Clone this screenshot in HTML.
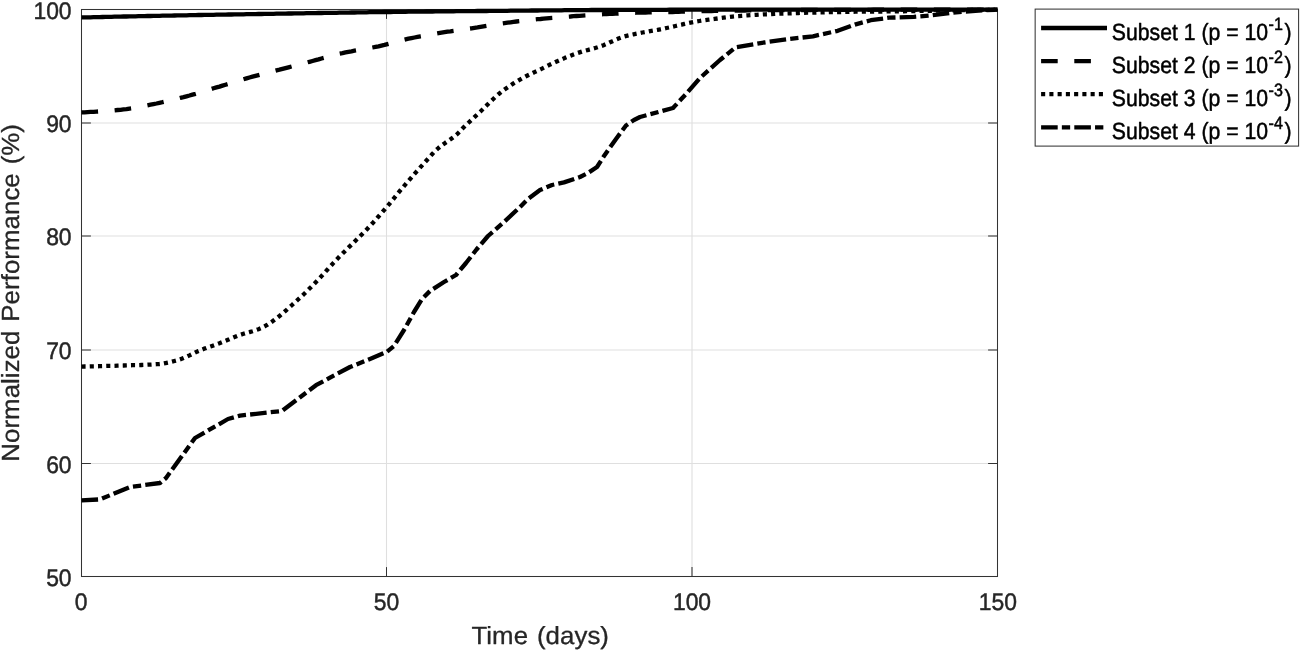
<!DOCTYPE html>
<html><head><meta charset="utf-8"><title>Chart</title>
<style>
html,body{margin:0;padding:0;background:#fff;}
body{width:1300px;height:651px;position:relative;overflow:hidden;font-family:"Liberation Sans",sans-serif;}
svg{display:block;}
text{font-family:"Liberation Sans",sans-serif;white-space:pre;}
</style></head><body>
<svg width="1300" height="651" viewBox="0 0 1300 651" style="position:absolute;left:0;top:0;will-change:transform">
<rect width="1300" height="651" fill="#fff"/>
<line x1="386.5" y1="9.5" x2="386.5" y2="576.5" stroke="#dfdfdf" stroke-width="1.1"/>
<line x1="692.0" y1="9.5" x2="692.0" y2="576.5" stroke="#dfdfdf" stroke-width="1.1"/>
<line x1="81.5" y1="463.5" x2="997.5" y2="463.5" stroke="#dfdfdf" stroke-width="1.1"/>
<line x1="81.5" y1="350.0" x2="997.5" y2="350.0" stroke="#dfdfdf" stroke-width="1.1"/>
<line x1="81.5" y1="236.0" x2="997.5" y2="236.0" stroke="#dfdfdf" stroke-width="1.1"/>
<line x1="81.5" y1="123.0" x2="997.5" y2="123.0" stroke="#dfdfdf" stroke-width="1.1"/>
<rect x="81.5" y="9.5" width="916.0" height="567.0" fill="none" stroke="#333" stroke-width="1.04"/>
<line x1="386.5" y1="576.5" x2="386.5" y2="567.1" stroke="#333" stroke-width="1.04"/>
<line x1="386.5" y1="9.5" x2="386.5" y2="18.9" stroke="#333" stroke-width="1.04"/>
<line x1="692.0" y1="576.5" x2="692.0" y2="567.1" stroke="#333" stroke-width="1.04"/>
<line x1="692.0" y1="9.5" x2="692.0" y2="18.9" stroke="#333" stroke-width="1.04"/>
<line x1="81.5" y1="463.5" x2="90.9" y2="463.5" stroke="#333" stroke-width="1.04"/>
<line x1="997.5" y1="463.5" x2="988.1" y2="463.5" stroke="#333" stroke-width="1.04"/>
<line x1="81.5" y1="350.0" x2="90.9" y2="350.0" stroke="#333" stroke-width="1.04"/>
<line x1="997.5" y1="350.0" x2="988.1" y2="350.0" stroke="#333" stroke-width="1.04"/>
<line x1="81.5" y1="236.0" x2="90.9" y2="236.0" stroke="#333" stroke-width="1.04"/>
<line x1="997.5" y1="236.0" x2="988.1" y2="236.0" stroke="#333" stroke-width="1.04"/>
<line x1="81.5" y1="123.0" x2="90.9" y2="123.0" stroke="#333" stroke-width="1.04"/>
<line x1="997.5" y1="123.0" x2="988.1" y2="123.0" stroke="#333" stroke-width="1.04"/>
<path d="M81.5,500.4 L100.0,499.4 L130.0,487.0 L160.0,483.0 L166.0,478.0 L195.0,438.0 L228.0,419.0 L240.0,415.6 L282.0,411.0 L316.0,385.2 L330.0,377.6 L350.0,367.0 L370.0,359.0 L386.6,352.0 L394.0,346.0 L404.0,330.0 L414.0,312.0 L422.0,299.0 L430.0,291.0 L444.0,282.0 L456.0,275.0 L466.0,263.0 L476.5,249.5 L488.0,236.0 L504.0,222.0 L520.0,207.0 L528.0,199.0 L540.0,190.0 L552.0,185.0 L564.0,182.4 L580.0,177.0 L588.0,173.0 L597.0,167.0 L604.0,156.0 L616.0,139.0 L626.0,125.5 L634.0,120.0 L640.0,117.0 L660.0,111.6 L673.0,108.0 L686.0,94.0 L700.0,78.0 L720.0,60.0 L735.5,47.4 L763.8,42.5 L788.5,39.1 L813.0,36.3 L837.7,30.8 L854.8,24.6 L870.8,20.2 L889.2,17.7 L913.8,16.9 L932.3,15.3 L950.8,12.8 L975.4,10.8 L997.5,9.6" fill="none" stroke="#000" stroke-width="4.3" stroke-linejoin="round" stroke-dasharray="16.6 4.15 8.3 4.15"/>
<path d="M81.5,366.6 L84.5,366.5 L87.5,366.5 L90.5,366.4 L93.5,366.3 L96.5,366.3 L99.5,366.2 L102.5,366.1 L105.5,366.0 L108.5,365.9 L111.5,365.9 L114.5,365.8 L117.5,365.7 L120.5,365.6 L123.5,365.5 L126.5,365.4 L129.5,365.3 L132.5,365.2 L135.5,365.2 L138.5,365.1 L141.5,365.0 L144.5,364.9 L147.5,364.7 L150.5,364.6 L153.5,364.4 L156.5,364.2 L159.5,364.0 L162.5,363.7 L165.5,363.1 L168.5,362.5 L171.5,361.8 L174.5,361.0 L177.5,360.2 L180.5,359.2 L183.5,358.1 L186.5,356.8 L189.5,355.4 L192.5,353.9 L195.5,352.4 L198.5,351.0 L201.5,349.8 L204.5,348.6 L207.5,347.5 L210.5,346.5 L213.5,345.4 L216.5,344.3 L219.5,343.2 L222.5,342.0 L225.5,340.8 L228.5,339.6 L231.5,338.3 L234.5,337.1 L237.5,335.9 L240.5,334.8 L243.5,333.8 L246.5,332.9 L249.5,332.1 L252.5,331.2 L255.5,330.2 L258.5,329.2 L261.5,328.0 L264.5,326.4 L267.5,324.7 L270.5,322.8 L273.5,320.6 L276.5,318.3 L279.5,316.0 L282.5,313.5 L285.5,310.9 L288.5,308.2 L291.5,305.5 L294.5,302.8 L297.5,300.0 L300.5,297.3 L303.5,294.5 L306.5,291.6 L309.5,288.6 L312.5,285.6 L315.5,282.5 L318.5,279.4 L321.5,276.1 L324.5,272.8 L327.5,269.5 L330.5,266.2 L333.5,262.9 L336.5,259.7 L339.5,256.6 L342.5,253.6 L345.5,250.6 L348.5,247.6 L351.5,244.7 L354.5,241.7 L357.5,238.7 L360.5,235.8 L363.5,232.8 L366.5,229.7 L369.5,226.5 L372.5,223.3 L375.5,219.9 L378.5,216.5 L381.5,213.1 L384.5,209.6 L387.5,206.1 L390.5,202.5 L393.5,198.8 L396.5,195.1 L399.5,191.4 L402.5,187.8 L405.5,184.3 L408.5,180.8 L411.5,177.3 L414.5,173.9 L417.5,170.6 L420.5,167.2 L423.5,163.9 L426.5,160.5 L429.5,157.1 L432.5,153.8 L435.5,150.7 L438.5,148.0 L441.5,145.5 L444.5,143.4 L447.5,141.3 L450.5,139.3 L453.5,137.1 L456.5,134.7 L459.5,131.8 L462.5,128.5 L465.5,125.5 L468.5,122.7 L471.5,119.9 L474.5,117.1 L477.5,114.3 L480.5,111.5 L483.5,108.6 L486.5,105.6 L489.5,102.6 L492.5,99.7 L495.5,96.8 L498.5,94.2 L501.5,91.8 L504.5,89.6 L507.5,87.4 L510.5,85.4 L513.5,83.4 L516.5,81.6 L519.5,79.8 L522.5,78.1 L525.5,76.5 L528.5,75.0 L531.5,73.6 L534.5,72.1 L537.5,70.7 L540.5,69.3 L543.5,67.8 L546.5,66.3 L549.5,64.8 L552.5,63.4 L555.5,62.0 L558.5,60.7 L561.5,59.4 L564.5,58.1 L567.5,56.9 L570.5,55.7 L573.5,54.5 L576.5,53.4 L579.5,52.4 L582.5,51.4 L585.5,50.6 L588.5,49.8 L591.5,49.0 L594.5,48.2 L597.5,47.3 L600.5,46.3 L603.5,45.2 L606.5,43.9 L609.5,42.5 L612.5,41.2 L615.5,39.8 L618.5,38.6 L621.5,37.5 L624.5,36.4 L627.5,35.6 L630.5,34.9 L633.5,34.3 L636.5,33.7 L639.5,33.1 L642.5,32.5 L645.5,32.0 L648.5,31.5 L651.5,30.9 L654.5,30.4 L657.5,29.9 L660.5,29.3 L663.5,28.7 L666.5,28.0 L669.5,27.4 L672.5,26.7 L675.5,26.0 L678.5,25.3 L681.5,24.7 L684.5,23.9 L687.5,23.2 L690.5,22.6 L693.5,22.0 L696.5,21.5 L699.5,21.0 L702.5,20.5 L705.5,20.1 L708.5,19.7 L711.5,19.3 L714.5,18.9 L717.5,18.5 L720.5,18.1 L723.5,17.7 L726.5,17.3 L729.5,17.0 L732.5,16.6 L735.5,16.3 L738.5,16.1 L741.5,15.8 L744.5,15.6 L747.5,15.4 L750.5,15.2 L753.5,15.0 L756.5,14.8 L759.5,14.6 L762.5,14.5 L765.5,14.3 L768.5,14.2 L771.5,14.0 L774.5,13.9 L777.5,13.7 L780.5,13.6 L783.5,13.5 L786.5,13.4 L789.5,13.3 L792.5,13.2 L795.5,13.1 L798.5,13.0 L801.5,12.9 L804.5,12.8 L807.5,12.7 L810.5,12.7 L813.5,12.6 L816.5,12.5 L819.5,12.4 L822.5,12.4 L825.5,12.3 L828.5,12.2 L831.5,12.1 L834.5,12.1 L837.5,12.0 L840.5,12.0 L843.5,11.9 L846.5,11.9 L849.5,11.8 L852.5,11.8 L855.5,11.7 L858.5,11.7 L861.5,11.7 L864.5,11.6 L867.5,11.6 L870.5,11.6 L873.5,11.6 L876.5,11.5 L879.5,11.5 L882.5,11.5 L885.5,11.5 L888.5,11.4 L891.5,11.4 L894.5,11.4 L897.5,11.3 L900.5,11.3 L903.5,11.3 L906.5,11.2 L909.5,11.2 L912.5,11.1 L915.5,11.1 L918.5,11.0 L921.5,10.9 L924.5,10.9 L927.5,10.8 L930.5,10.8 L933.5,10.7 L936.5,10.7 L939.5,10.6 L942.5,10.6 L945.5,10.5 L948.5,10.5 L951.5,10.4 L954.5,10.3 L957.5,10.3 L960.5,10.2 L963.5,10.2 L966.5,10.1 L969.5,10.1 L972.5,10.0 L975.5,10.0 L978.5,9.9 L981.5,9.9 L984.5,9.8 L987.5,9.8 L990.5,9.7 L993.5,9.7 L996.5,9.6 L997.5,9.6" fill="none" stroke="#000" stroke-width="4.3" stroke-linejoin="round" stroke-dasharray="4.1 4.15"/>
<path d="M81.5,112.4 L84.5,112.3 L87.5,112.1 L90.5,111.9 L93.5,111.8 L96.5,111.6 L99.5,111.4 L102.5,111.2 L105.5,111.0 L108.5,110.8 L111.5,110.5 L114.5,110.3 L117.5,110.0 L120.5,109.8 L123.5,109.4 L126.5,109.1 L129.5,108.6 L132.5,108.2 L135.5,107.6 L138.5,107.1 L141.5,106.5 L144.5,105.9 L147.5,105.3 L150.5,104.7 L153.5,104.1 L156.5,103.5 L159.5,102.8 L162.5,102.2 L165.5,101.5 L168.5,100.8 L171.5,100.1 L174.5,99.3 L177.5,98.6 L180.5,97.8 L183.5,97.1 L186.5,96.3 L189.5,95.5 L192.5,94.6 L195.5,93.8 L198.5,92.9 L201.5,92.0 L204.5,91.1 L207.5,90.2 L210.5,89.3 L213.5,88.3 L216.5,87.4 L219.5,86.6 L222.5,85.6 L225.5,84.7 L228.5,83.8 L231.5,82.9 L234.5,82.0 L237.5,81.1 L240.5,80.2 L243.5,79.3 L246.5,78.4 L249.5,77.5 L252.5,76.7 L255.5,75.9 L258.5,75.1 L261.5,74.3 L264.5,73.5 L267.5,72.7 L270.5,72.0 L273.5,71.2 L276.5,70.4 L279.5,69.7 L282.5,68.9 L285.5,68.1 L288.5,67.3 L291.5,66.5 L294.5,65.7 L297.5,64.9 L300.5,64.2 L303.5,63.4 L306.5,62.6 L309.5,61.8 L312.5,61.0 L315.5,60.2 L318.5,59.4 L321.5,58.5 L324.5,57.7 L327.5,56.8 L330.5,56.0 L333.5,55.2 L336.5,54.4 L339.5,53.7 L342.5,53.1 L345.5,52.4 L348.5,51.8 L351.5,51.3 L354.5,50.7 L357.5,50.2 L360.5,49.7 L363.5,49.2 L366.5,48.6 L369.5,48.1 L372.5,47.5 L375.5,46.9 L378.5,46.3 L381.5,45.6 L384.5,44.9 L387.5,44.1 L390.5,43.3 L393.5,42.5 L396.5,41.7 L399.5,40.9 L402.5,40.1 L405.5,39.4 L408.5,38.7 L411.5,38.1 L414.5,37.5 L417.5,36.9 L420.5,36.3 L423.5,35.8 L426.5,35.2 L429.5,34.7 L432.5,34.2 L435.5,33.7 L438.5,33.2 L441.5,32.7 L444.5,32.2 L447.5,31.7 L450.5,31.3 L453.5,30.8 L456.5,30.4 L459.5,30.0 L462.5,29.6 L465.5,29.1 L468.5,28.7 L471.5,28.3 L474.5,27.8 L477.5,27.4 L480.5,26.9 L483.5,26.4 L486.5,25.9 L489.5,25.4 L492.5,24.9 L495.5,24.4 L498.5,24.0 L501.5,23.5 L504.5,23.1 L507.5,22.7 L510.5,22.3 L513.5,21.9 L516.5,21.5 L519.5,21.2 L522.5,20.8 L525.5,20.5 L528.5,20.2 L531.5,19.8 L534.5,19.5 L537.5,19.2 L540.5,19.0 L543.5,18.7 L546.5,18.4 L549.5,18.1 L552.5,17.9 L555.5,17.6 L558.5,17.4 L561.5,17.1 L564.5,16.9 L567.5,16.7 L570.5,16.5 L573.5,16.2 L576.5,16.0 L579.5,15.8 L582.5,15.6 L585.5,15.4 L588.5,15.2 L591.5,15.0 L594.5,14.8 L597.5,14.6 L600.5,14.4 L603.5,14.2 L606.5,14.1 L609.5,13.9 L612.5,13.8 L615.5,13.6 L618.5,13.5 L621.5,13.3 L624.5,13.2 L627.5,13.0 L630.5,12.9 L633.5,12.8 L636.5,12.7 L639.5,12.6 L642.5,12.5 L645.5,12.5 L648.5,12.4 L651.5,12.4 L654.5,12.3 L657.5,12.3 L660.5,12.2 L663.5,12.2 L666.5,12.1 L669.5,12.1 L672.5,12.0 L675.5,11.9 L678.5,11.8 L681.5,11.7 L684.5,11.6 L687.5,11.5 L690.5,11.5 L693.5,11.4 L696.5,11.3 L699.5,11.2 L702.5,11.1 L705.5,11.1 L708.5,11.0 L711.5,11.0 L714.5,10.9 L717.5,10.9 L720.5,10.8 L723.5,10.8 L726.5,10.7 L729.5,10.7 L732.5,10.6 L735.5,10.6 L738.5,10.5 L741.5,10.5 L744.5,10.5 L747.5,10.4 L750.5,10.4 L753.5,10.4 L756.5,10.3 L759.5,10.3 L762.5,10.3 L765.5,10.3 L768.5,10.2 L771.5,10.2 L774.5,10.2 L777.5,10.2 L780.5,10.1 L783.5,10.1 L786.5,10.1 L789.5,10.1 L792.5,10.1 L795.5,10.0 L798.5,10.0 L801.5,10.0 L804.5,10.0 L807.5,10.0 L810.5,10.0 L813.5,9.9 L816.5,9.9 L819.5,9.9 L822.5,9.9 L825.5,9.9 L828.5,9.9 L831.5,9.9 L834.5,9.8 L837.5,9.8 L840.5,9.8 L843.5,9.8 L846.5,9.8 L849.5,9.8 L852.5,9.8 L855.5,9.8 L858.5,9.8 L861.5,9.8 L864.5,9.8 L867.5,9.8 L870.5,9.8 L873.5,9.7 L876.5,9.7 L879.5,9.7 L882.5,9.7 L885.5,9.7 L888.5,9.7 L891.5,9.7 L894.5,9.7 L897.5,9.7 L900.5,9.7 L903.5,9.7 L906.5,9.7 L909.5,9.7 L912.5,9.7 L915.5,9.7 L918.5,9.7 L921.5,9.7 L924.5,9.7 L927.5,9.7 L930.5,9.6 L933.5,9.6 L936.5,9.6 L939.5,9.6 L942.5,9.6 L945.5,9.6 L948.5,9.6 L951.5,9.6 L954.5,9.6 L957.5,9.6 L960.5,9.6 L963.5,9.6 L966.5,9.6 L969.5,9.6 L972.5,9.6 L975.5,9.6 L978.5,9.6 L981.5,9.6 L984.5,9.6 L987.5,9.6 L990.5,9.6 L993.5,9.6 L996.5,9.6 L997.5,9.6" fill="none" stroke="#000" stroke-width="4.3" stroke-linejoin="round" stroke-dasharray="16.6 16.6"/>
<path d="M81.5,17.4 L84.5,17.4 L87.5,17.3 L90.5,17.3 L93.5,17.2 L96.5,17.1 L99.5,17.1 L102.5,17.0 L105.5,16.9 L108.5,16.9 L111.5,16.8 L114.5,16.7 L117.5,16.7 L120.5,16.6 L123.5,16.5 L126.5,16.5 L129.5,16.4 L132.5,16.4 L135.5,16.3 L138.5,16.2 L141.5,16.2 L144.5,16.1 L147.5,16.0 L150.5,16.0 L153.5,15.9 L156.5,15.9 L159.5,15.8 L162.5,15.7 L165.5,15.7 L168.5,15.6 L171.5,15.6 L174.5,15.5 L177.5,15.4 L180.5,15.4 L183.5,15.3 L186.5,15.3 L189.5,15.2 L192.5,15.1 L195.5,15.1 L198.5,15.0 L201.5,15.0 L204.5,14.9 L207.5,14.9 L210.5,14.8 L213.5,14.8 L216.5,14.7 L219.5,14.7 L222.5,14.6 L225.5,14.6 L228.5,14.5 L231.5,14.5 L234.5,14.4 L237.5,14.4 L240.5,14.3 L243.5,14.3 L246.5,14.2 L249.5,14.2 L252.5,14.1 L255.5,14.1 L258.5,14.0 L261.5,14.0 L264.5,13.9 L267.5,13.9 L270.5,13.8 L273.5,13.8 L276.5,13.7 L279.5,13.7 L282.5,13.6 L285.5,13.6 L288.5,13.5 L291.5,13.5 L294.5,13.4 L297.5,13.4 L300.5,13.3 L303.5,13.3 L306.5,13.2 L309.5,13.2 L312.5,13.1 L315.5,13.1 L318.5,13.0 L321.5,13.0 L324.5,12.9 L327.5,12.9 L330.5,12.8 L333.5,12.8 L336.5,12.8 L339.5,12.7 L342.5,12.7 L345.5,12.6 L348.5,12.6 L351.5,12.5 L354.5,12.5 L357.5,12.4 L360.5,12.4 L363.5,12.3 L366.5,12.3 L369.5,12.2 L372.5,12.2 L375.5,12.2 L378.5,12.1 L381.5,12.1 L384.5,12.0 L387.5,12.0 L390.5,12.0 L393.5,11.9 L396.5,11.9 L399.5,11.8 L402.5,11.8 L405.5,11.8 L408.5,11.7 L411.5,11.7 L414.5,11.7 L417.5,11.6 L420.5,11.6 L423.5,11.6 L426.5,11.5 L429.5,11.5 L432.5,11.5 L435.5,11.4 L438.5,11.4 L441.5,11.4 L444.5,11.4 L447.5,11.3 L450.5,11.3 L453.5,11.3 L456.5,11.2 L459.5,11.2 L462.5,11.2 L465.5,11.1 L468.5,11.1 L471.5,11.1 L474.5,11.1 L477.5,11.0 L480.5,11.0 L483.5,11.0 L486.5,11.0 L489.5,10.9 L492.5,10.9 L495.5,10.9 L498.5,10.8 L501.5,10.8 L504.5,10.8 L507.5,10.8 L510.5,10.7 L513.5,10.7 L516.5,10.7 L519.5,10.6 L522.5,10.6 L525.5,10.6 L528.5,10.6 L531.5,10.5 L534.5,10.5 L537.5,10.5 L540.5,10.4 L543.5,10.4 L546.5,10.4 L549.5,10.4 L552.5,10.3 L555.5,10.3 L558.5,10.3 L561.5,10.3 L564.5,10.2 L567.5,10.2 L570.5,10.2 L573.5,10.2 L576.5,10.1 L579.5,10.1 L582.5,10.1 L585.5,10.1 L588.5,10.1 L591.5,10.0 L594.5,10.0 L597.5,10.0 L600.5,10.0 L603.5,10.0 L606.5,10.0 L609.5,10.0 L612.5,9.9 L615.5,9.9 L618.5,9.9 L621.5,9.9 L624.5,9.9 L627.5,9.9 L630.5,9.9 L633.5,9.9 L636.5,9.9 L639.5,9.8 L642.5,9.8 L645.5,9.8 L648.5,9.8 L651.5,9.8 L654.5,9.8 L657.5,9.8 L660.5,9.8 L663.5,9.8 L666.5,9.8 L669.5,9.7 L672.5,9.7 L675.5,9.7 L678.5,9.7 L681.5,9.7 L684.5,9.7 L687.5,9.7 L690.5,9.7 L693.5,9.7 L696.5,9.7 L699.5,9.7 L702.5,9.7 L705.5,9.7 L708.5,9.7 L711.5,9.7 L714.5,9.7 L717.5,9.7 L720.5,9.7 L723.5,9.7 L726.5,9.7 L729.5,9.7 L732.5,9.7 L735.5,9.7 L738.5,9.7 L741.5,9.7 L744.5,9.7 L747.5,9.7 L750.5,9.7 L753.5,9.7 L756.5,9.7 L759.5,9.7 L762.5,9.7 L765.5,9.7 L768.5,9.7 L771.5,9.7 L774.5,9.7 L777.5,9.7 L780.5,9.7 L783.5,9.7 L786.5,9.6 L789.5,9.6 L792.5,9.6 L795.5,9.6 L798.5,9.6 L801.5,9.6 L804.5,9.6 L807.5,9.6 L810.5,9.6 L813.5,9.6 L816.5,9.6 L819.5,9.6 L822.5,9.6 L825.5,9.6 L828.5,9.6 L831.5,9.6 L834.5,9.6 L837.5,9.6 L840.5,9.6 L843.5,9.6 L846.5,9.6 L849.5,9.6 L852.5,9.6 L855.5,9.6 L858.5,9.6 L861.5,9.6 L864.5,9.6 L867.5,9.6 L870.5,9.6 L873.5,9.6 L876.5,9.6 L879.5,9.6 L882.5,9.6 L885.5,9.6 L888.5,9.6 L891.5,9.6 L894.5,9.6 L897.5,9.6 L900.5,9.6 L903.5,9.6 L906.5,9.6 L909.5,9.6 L912.5,9.6 L915.5,9.6 L918.5,9.6 L921.5,9.6 L924.5,9.6 L927.5,9.6 L930.5,9.6 L933.5,9.6 L936.5,9.6 L939.5,9.6 L942.5,9.6 L945.5,9.6 L948.5,9.6 L951.5,9.6 L954.5,9.6 L957.5,9.6 L960.5,9.6 L963.5,9.6 L966.5,9.6 L969.5,9.6 L972.5,9.6 L975.5,9.6 L978.5,9.6 L981.5,9.6 L984.5,9.6 L987.5,9.6 L990.5,9.6 L993.5,9.6 L996.5,9.6 L997.5,9.6" fill="none" stroke="#000" stroke-width="4.3" stroke-linejoin="round"/>
<rect x="1035.15" y="9.1" width="263.45" height="137" fill="#fff" stroke="#333" stroke-width="1.04"/>
<line x1="1041.1" y1="28.0" x2="1107.0" y2="28.0" stroke="#000" stroke-width="4.3"/>
<line x1="1041.1" y1="61.1" x2="1107.0" y2="61.1" stroke="#000" stroke-width="4.3" stroke-dasharray="16.6 16.6"/>
<line x1="1041.1" y1="94.2" x2="1107.0" y2="94.2" stroke="#000" stroke-width="4.3" stroke-dasharray="4.1 4.15"/>
<line x1="1041.1" y1="127.3" x2="1107.0" y2="127.3" stroke="#000" stroke-width="4.3" stroke-dasharray="16.6 4.15 8.3 4.15"/>
<g font-family="Liberation Sans, sans-serif" style="text-rendering:geometricPrecision"><text transform="translate(71.6,585.7) scale(1,1.05)" font-size="22.9" text-anchor="end" fill="#262626" stroke="#262626" stroke-width="0.45" stroke-linejoin="round" >50</text>
<text transform="translate(71.6,472.7) scale(1,1.05)" font-size="22.9" text-anchor="end" fill="#262626" stroke="#262626" stroke-width="0.45" stroke-linejoin="round" >60</text>
<text transform="translate(71.6,359.2) scale(1,1.05)" font-size="22.9" text-anchor="end" fill="#262626" stroke="#262626" stroke-width="0.45" stroke-linejoin="round" >70</text>
<text transform="translate(71.6,245.2) scale(1,1.05)" font-size="22.9" text-anchor="end" fill="#262626" stroke="#262626" stroke-width="0.45" stroke-linejoin="round" >80</text>
<text transform="translate(71.6,132.2) scale(1,1.05)" font-size="22.9" text-anchor="end" fill="#262626" stroke="#262626" stroke-width="0.45" stroke-linejoin="round" >90</text>
<text transform="translate(71.6,18.7) scale(1,1.05)" font-size="22.9" text-anchor="end" fill="#262626" stroke="#262626" stroke-width="0.45" stroke-linejoin="round" >100</text>
<text transform="translate(81.0,609.9) scale(1,1.05)" font-size="22.9" text-anchor="middle" fill="#262626" stroke="#262626" stroke-width="0.45" stroke-linejoin="round" >0</text>
<text transform="translate(386.5,609.9) scale(1,1.05)" font-size="22.9" text-anchor="middle" fill="#262626" stroke="#262626" stroke-width="0.45" stroke-linejoin="round" >50</text>
<text transform="translate(692.0,609.9) scale(1,1.05)" font-size="22.9" text-anchor="middle" fill="#262626" stroke="#262626" stroke-width="0.45" stroke-linejoin="round" >100</text>
<text transform="translate(997.8,609.9) scale(1,1.05)" font-size="22.9" text-anchor="middle" fill="#262626" stroke="#262626" stroke-width="0.45" stroke-linejoin="round" >150</text>
<text transform="translate(471.4,643.5) scale(1.04,1)" font-size="24.8" text-anchor="start" fill="#262626" stroke="#262626" stroke-width="0.3" stroke-linejoin="round" word-spacing="1.6" letter-spacing="0.07">Time (days)</text>
<text transform="translate(19.3,461.7) rotate(-90) scale(1.04,1)" font-size="24.8" text-anchor="start" fill="#262626" stroke="#262626" stroke-width="0.3" stroke-linejoin="round" word-spacing="1.6" letter-spacing="0.07">Normalized Performance (%)</text>
<text transform="translate(1111.8,39.5) scale(0.996,1.1)" font-size="21.3" text-anchor="start" fill="#000" stroke="#000" stroke-width="0.45" stroke-linejoin="round" >Subset 1 (p = 10<tspan font-size="16.2" dy="-8.9" dx="0.5">-1</tspan><tspan dy="8.9" dx="1.5">)</tspan></text>
<text transform="translate(1111.8,72.6) scale(0.996,1.1)" font-size="21.3" text-anchor="start" fill="#000" stroke="#000" stroke-width="0.45" stroke-linejoin="round" >Subset 2 (p = 10<tspan font-size="16.2" dy="-8.9" dx="0.5">-2</tspan><tspan dy="8.9" dx="1.5">)</tspan></text>
<text transform="translate(1111.8,105.7) scale(0.996,1.1)" font-size="21.3" text-anchor="start" fill="#000" stroke="#000" stroke-width="0.45" stroke-linejoin="round" >Subset 3 (p = 10<tspan font-size="16.2" dy="-8.9" dx="0.5">-3</tspan><tspan dy="8.9" dx="1.5">)</tspan></text>
<text transform="translate(1111.8,138.8) scale(0.996,1.1)" font-size="21.3" text-anchor="start" fill="#000" stroke="#000" stroke-width="0.45" stroke-linejoin="round" >Subset 4 (p = 10<tspan font-size="16.2" dy="-8.9" dx="0.5">-4</tspan><tspan dy="8.9" dx="1.5">)</tspan></text></g>
</svg>
</body></html>
